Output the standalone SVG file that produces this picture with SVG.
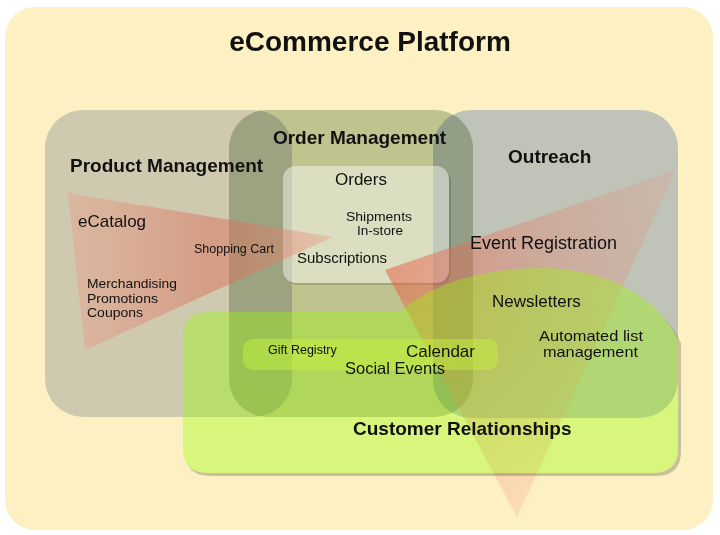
<svg xmlns="http://www.w3.org/2000/svg" width="720" height="535" viewBox="0 0 720 535">
  <style>
    text { font-family: "Liberation Sans", Arial, sans-serif; fill: #111; }
    .title { font-size: 28px; font-weight: bold; }
    .head { font-size: 19px; font-weight: bold; }
    .mul { mix-blend-mode: multiply; }
  </style>
  <defs>
    <linearGradient id="triA" gradientUnits="userSpaceOnUse" x1="68" y1="0" x2="333" y2="0">
      <stop offset="0" stop-color="rgb(240,150,130)" stop-opacity="0.35"/>
      <stop offset="0.55" stop-color="rgb(220,100,80)" stop-opacity="0.45"/>
      <stop offset="1" stop-color="rgb(240,140,120)" stop-opacity="0.35"/>
    </linearGradient>
    <radialGradient id="triB" gradientUnits="userSpaceOnUse" cx="385" cy="270" r="310">
      <stop offset="0" stop-color="rgb(230,95,70)" stop-opacity="0.55"/>
      <stop offset="0.5" stop-color="rgb(235,110,90)" stop-opacity="0.3"/>
      <stop offset="1" stop-color="rgb(240,130,110)" stop-opacity="0.15"/>
    </radialGradient>
    <mask id="crOut" maskUnits="userSpaceOnUse" x="0" y="0" width="720" height="535">
      <rect x="0" y="0" width="720" height="535" fill="#fff"/>
      <path d="M183,337 Q183,312 208,312 L400,312 C430,285 480,268 540,268 C610,268 660,300 678,340 L678,448 Q678,473 653,473 L208,473 Q183,473 183,448 Z" fill="#000"/>
    </mask>
    <mask id="boxOut" maskUnits="userSpaceOnUse" x="0" y="0" width="720" height="535">
      <rect x="0" y="0" width="720" height="535" fill="#fff"/>
      <rect x="283" y="166" width="166" height="117" rx="13" fill="#000"/>
    </mask>
  </defs>

  <rect x="0" y="0" width="720" height="535" fill="#ffffff"/>
  <g id="platform">
    <rect x="5" y="7" width="708" height="523" rx="30" fill="#fdf1c3"/>
    <text class="title" x="370" y="51" text-anchor="middle">eCommerce Platform</text>
  </g>

  <g id="product-management">
    <rect class="mul" x="45" y="110" width="247" height="307" rx="38" fill="rgb(209,213,230)"/>
  </g>
  <g id="order-management">
    <rect class="mul" x="229" y="110" width="244" height="307" rx="38" fill="rgb(194,207,186)"/>
  </g>
  <g id="outreach">
    <rect class="mul" x="433" y="110" width="245" height="308" rx="38" fill="rgb(194,207,240)"/>
  </g>

  <g id="orders-box">
    <g mask="url(#boxOut)">
      <rect x="285" y="168" width="166" height="117" rx="13" fill="#000" fill-opacity="0.15"/>
    </g>
    <rect x="283" y="166" width="166" height="117" rx="13" fill="#ffffff" fill-opacity="0.45"/>
  </g>

  <g id="flow-shapes">
    <polygon points="68,193 333,237 85,350" fill="url(#triA)"/>
    <polygon points="385,270 676,170 517,517" fill="url(#triB)"/>
  </g>

  <g id="customer-relationships">
    <g mask="url(#crOut)">
      <path d="M185,340 Q185,315 210,315 L402,315 C432,288 482,271 542,271 C612,271 662,303 681,343 L681,451 Q681,476 656,476 L210,476 Q185,476 185,451 Z" fill="#000" fill-opacity="0.2"/>
    </g>
    <path d="M183,337 Q183,312 208,312 L400,312 C430,285 480,268 540,268 C610,268 660,300 678,340 L678,448 Q678,473 653,473 L208,473 Q183,473 183,448 Z" fill="rgb(150,252,0)" fill-opacity="0.36"/>
  </g>

  <g id="events-band">
    <rect x="243" y="339" width="255" height="31" rx="10" fill="rgb(200,245,60)" fill-opacity="0.45"/>
  </g>

  <g id="connectors"></g>

  <g id="labels">
    <text class="head" x="359.5" y="144" text-anchor="middle">Order Management</text>
    <text class="head" x="70" y="172">Product Management</text>
    <text class="head" x="508" y="163">Outreach</text>
    <text class="head" x="353" y="435">Customer Relationships</text>

    <text x="361" y="185" font-size="17" text-anchor="middle">Orders</text>
    <text x="346" y="221" font-size="13" textLength="66" lengthAdjust="spacingAndGlyphs">Shipments</text>
    <text x="357" y="235" font-size="13" textLength="46" lengthAdjust="spacingAndGlyphs">In-store</text>
    <text x="297" y="263" font-size="15">Subscriptions</text>

    <text x="78" y="227" font-size="17">eCatalog</text>
    <text x="194" y="253" font-size="12.5">Shopping Cart</text>
    <text x="87" y="288" font-size="13.5" textLength="90" lengthAdjust="spacingAndGlyphs">Merchandising</text>
    <text x="87" y="302.5" font-size="13.5" textLength="71" lengthAdjust="spacingAndGlyphs">Promotions</text>
    <text x="87" y="317" font-size="13.5" textLength="56" lengthAdjust="spacingAndGlyphs">Coupons</text>

    <text x="470" y="249" font-size="18">Event Registration</text>
    <text x="492" y="307" font-size="17">Newsletters</text>
    <text x="539" y="341" font-size="15" textLength="104" lengthAdjust="spacingAndGlyphs">Automated list</text>
    <text x="543" y="357" font-size="15" textLength="95" lengthAdjust="spacingAndGlyphs">management</text>

    <text x="268" y="354" font-size="12.5">Gift Registry</text>
    <text x="406" y="357" font-size="17">Calendar</text>
    <text x="345" y="374" font-size="16.5">Social Events</text>
  </g>
</svg>
